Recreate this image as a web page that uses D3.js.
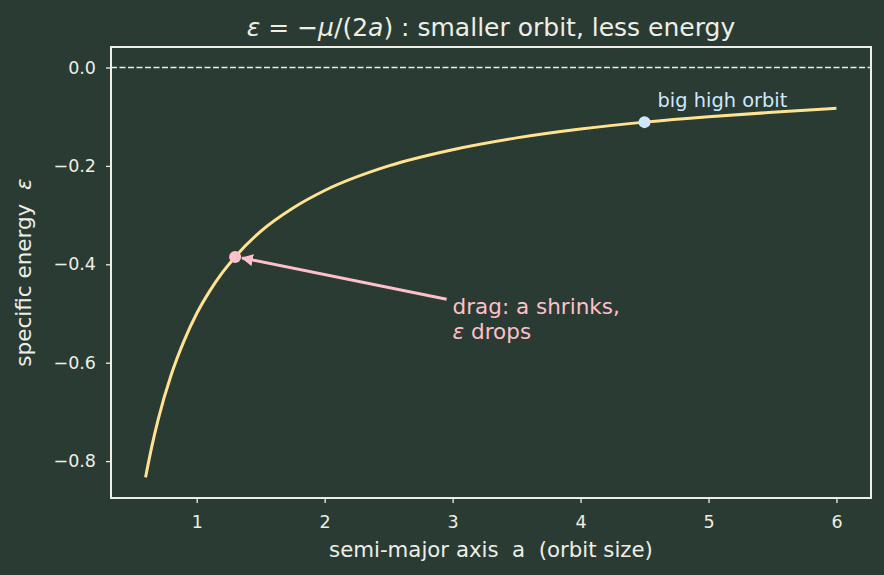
<!DOCTYPE html>
<html lang="en">
<head>
<meta charset="UTF-8">
<title>Specific orbital energy</title>
<script src="https://d3js.org/d3.v7.min.js"></script>
<style>
    body { margin: 0; background: #2a3b33; font-family: 'DejaVu Sans', sans-serif; }
    svg { display: block; }
    text { white-space: pre; }
    .tick text { fill: #eeeee6; font-family: 'DejaVu Sans', sans-serif; }
    .tick line { stroke: #eeeee6; stroke-width: 1.3; }
    .domain { display: none; }
</style>
</head>
<body>
<svg></svg>
<script>
    // curve points: semi-major axis a vs energy
    const aValues = [0.6, 0.65, 0.7, 0.8, 0.9, 1.0, 1.1, 1.2, 1.3, 1.5, 1.75, 2.0, 2.5, 3.0, 3.5, 4.0, 4.5, 5.0, 5.5, 6.0];
    const epsValues = [-0.833, -0.769, -0.714, -0.625, -0.556, -0.5, -0.455, -0.417, -0.385, -0.333, -0.286, -0.25, -0.2, -0.167, -0.143, -0.125, -0.111, -0.1, -0.091, -0.083];
    const xTicks = [1, 2, 3, 4, 5, 6];
    const yTicks = [0.0, -0.2, -0.4, -0.6, -0.8];
    const lowPoint = { a: 1.3, eps: -0.385 };
    const highPoint = { a: 4.5, eps: -0.111 };
    const arrowText = { a: 3.0, eps: -0.475 };

    const width = 884, height = 575;
    const margin = { left: 111, right: 13, top: 47, bottom: 77 };
    const svg = d3.select("svg").attr("width", width).attr("height", height);

    const x = d3.scaleLinear().domain([0.33, 6.27]).range([margin.left, width - margin.right]);
    const y = d3.scaleLinear().domain([-0.875, 0.0417]).range([height - margin.bottom, margin.top]);

    const fg = "#eeeee6";

    // axes
    svg.append("g")
        .attr("class", "x-axis")
        .attr("transform", `translate(0,${height - margin.bottom})`)
        .call(d3.axisBottom(x).tickValues(xTicks).tickSize(5).tickPadding(13).tickFormat(d3.format("d")))
        .attr("font-size", 17.5);

    svg.append("g")
        .attr("class", "y-axis")
        .attr("transform", `translate(${margin.left},0)`)
        .call(d3.axisLeft(y).tickValues(yTicks).tickSize(5).tickPadding(10)
            .tickFormat(d => d3.format(".1f")(d).replace("-", "\u2212")))
        .attr("font-size", 17.5);

    // zero line
    svg.append("line")
        .attr("x1", margin.left).attr("x2", width - margin.right)
        .attr("y1", y(0)).attr("y2", y(0))
        .attr("stroke", fg).attr("stroke-width", 1.3).attr("stroke-dasharray", "6,2.5");

    // curve
    const pts = aValues.map((a, i) => ({ a: a, eps: epsValues[i] }));
    svg.append("path")
        .datum(pts)
        .attr("fill", "none")
        .attr("stroke", "#ffe391")
        .attr("stroke-width", 3)
        .attr("d", d3.line().x(d => x(d.a)).y(d => y(d.eps)).curve(d3.curveMonotoneX));

    // frame
    svg.append("rect")
        .attr("x", margin.left).attr("y", margin.top)
        .attr("width", width - margin.left - margin.right)
        .attr("height", height - margin.top - margin.bottom)
        .attr("fill", "none").attr("stroke", fg).attr("stroke-width", 2);

    // arrow annotation
    const pink = "#ffc0cb";
    svg.append("defs").append("marker")
        .attr("id", "head").attr("viewBox", "0 0 10 10")
        .attr("refX", 9).attr("refY", 5)
        .attr("markerWidth", 4).attr("markerHeight", 4)
        .attr("orient", "auto")
        .append("path").attr("d", "M0,0 L10,5 L0,10 z").attr("fill", pink);

    const x0 = x(arrowText.a) - 6, y0 = y(arrowText.eps) - 2;
    const x1 = x(lowPoint.a) + 7, y1 = y(lowPoint.eps) + 1;
    svg.append("line")
        .attr("x1", x0).attr("y1", y0).attr("x2", x1).attr("y2", y1)
        .attr("stroke", pink).attr("stroke-width", 3)
        .attr("marker-end", "url(#head)");

    svg.append("circle")
        .attr("cx", x(lowPoint.a)).attr("cy", y(lowPoint.eps)).attr("r", 6)
        .attr("fill", pink);

    const t = svg.append("text")
        .attr("x", x(arrowText.a)).attr("y", y(arrowText.eps) + 13)
        .attr("fill", pink).attr("font-size", 21.5);
    t.append("tspan").text("drag: a shrinks,");
    const line2 = t.append("tspan").attr("x", x(arrowText.a)).attr("dy", 25);
    line2.append("tspan").attr("font-style", "italic").text("\u03b5");
    line2.append("tspan").text(" drops");

    // big high orbit
    const blue = "#cfe7ff";
    svg.append("circle")
        .attr("cx", x(highPoint.a)).attr("cy", y(highPoint.eps)).attr("r", 6)
        .attr("fill", blue);
    svg.append("text")
        .attr("x", x(highPoint.a) + 13).attr("y", y(highPoint.eps) - 15)
        .attr("fill", blue).attr("font-size", 19.4)
        .text("big high orbit");

    // title
    const title = svg.append("text")
        .attr("x", (margin.left + width - margin.right) / 2).attr("y", 36)
        .attr("text-anchor", "middle").attr("fill", fg).attr("font-size", 25);
    title.append("tspan").attr("font-style", "italic").text("\u03b5");
    title.append("tspan").text(" = \u2212");
    title.append("tspan").attr("font-style", "italic").text("\u03bc");
    title.append("tspan").text("/(2");
    title.append("tspan").attr("font-style", "italic").text("a");
    title.append("tspan").text(") : smaller orbit, less energy");

    // axis labels
    svg.append("text")
        .attr("x", (margin.left + width - margin.right) / 2).attr("y", 557)
        .attr("text-anchor", "middle").attr("fill", fg).attr("font-size", 21.3)
        .text("semi-major axis  a  (orbit size)");

    const yl = svg.append("text")
        .attr("transform", `translate(31,${(margin.top + height - margin.bottom) / 2}) rotate(-90)`)
        .attr("text-anchor", "middle").attr("fill", fg).attr("font-size", 21.5);
    yl.append("tspan").text("specific energy  ");
    yl.append("tspan").attr("font-style", "italic").text("\u03b5");
</script>
</body>
</html>
